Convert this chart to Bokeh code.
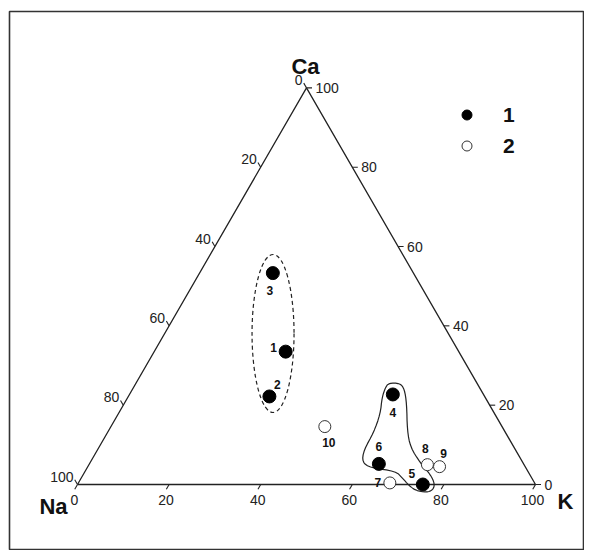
import numpy as np
from bokeh.plotting import figure
from bokeh.models import Range1d, ColumnDataSource, Legend, LegendItem
from bokeh.core.properties import value
from bokeh.embed import file_html
from bokeh.resources import INLINE

# ---- data (ternary compositions, %) ----
sample_ids = ["1", "2", "3", "4", "5", "6", "7", "8", "9", "10"]
sample_K = [28.7, 30.8, 16.0, 57.5, 75.4, 63.2, 68.0, 73.9, 76.8, 46.7]
sample_Ca = [33.5, 22.2, 53.3, 22.7, 0.0, 5.2, 0.4, 5.0, 4.5, 14.6]
sample_group = [1, 1, 1, 1, 1, 1, 2, 2, 2, 2]
label_dx = [-12, 8, -3, 0, -11, 0, -12, -2, 4, 4]
label_dy = [-4, -12, 17, 18, -11, -17, 0, -16, -13, 16]

tick_values = [0, 20, 40, 60, 80, 100]
tick_labels = ["0", "20", "40", "60", "80", "100"]

# field outlines
ellipse_center_K = 23.66
ellipse_center_Ca = 38.07
ellipse_w = 9.17
ellipse_h = 34.5

field_K = [55.2, 57.6, 59.3, 61.7, 65.2, 68.0, 72.2, 75.8, 77.9, 78.3, 77.2, 74.6,
           72.5, 70.05, 67.8, 61.9, 59.35, 58.2, 58.1, 57.2, 55.5, 55.0]
field_Ca = [25.54, 25.54, 24.13, 20.35, 13.61, 9.40, 5.37, 2.52, 0.18, -1.34, -2.02, -1.51,
            -0.25, 1.69, 3.35, 4.21, 5.62, 8.57, 13.19, 17.83, 22.01, 24.53]

S3 = np.sqrt(3) / 2


def xy(K, Ca):
    K = np.asarray(K, dtype=float)
    Ca = np.asarray(Ca, dtype=float)
    return K + Ca / 2, Ca * S3


def chaikin(x, y, n=2):
    # rounds the corners of a closed outline
    x = np.asarray(x, float); y = np.asarray(y, float)
    for _ in range(n):
        x1, y1 = np.roll(x, -1), np.roll(y, -1)
        qx, qy = 0.75 * x + 0.25 * x1, 0.75 * y + 0.25 * y1
        rx, ry = 0.25 * x + 0.75 * x1, 0.25 * y + 0.75 * y1
        x = np.column_stack([qx, rx]).ravel()
        y = np.column_stack([qy, ry]).ravel()
    return x, y


p = figure(width=584, height=550, output_backend="svg", toolbar_location=None,
           x_range=Range1d(-14.847, 110.48), y_range=Range1d(-14.41, 103.275),
           x_axis_location=None, y_axis_location=None,
           min_border_left=9, min_border_right=1, min_border_top=11, min_border_bottom=0)
p.grid.visible = False
p.outline_line_color = "#333333"
p.outline_line_width = 1.6
p.background_fill_color = "white"

# triangle frame (Na, K, Ca vertices)
tx, ty = xy([0, 100, 0, 0], [0, 0, 100, 0])
p.line(tx, ty, line_color="#222222", line_width=1.3)

# ticks
L = 1.2
tv = np.array(tick_values, dtype=float)
# left side: Na axis (0 at top, 100 at Na vertex)
lx, ly = xy(np.zeros_like(tv), 100 - tv)
# right side: Ca axis (0 at K vertex, 100 at top)
rx, ry = xy(100 - tv, tv)
# bottom: K axis
bx, by = xy(tv, np.zeros_like(tv))

xs, ys = [], []
for i in range(len(tv)):
    xs.append([lx[i], lx[i] - 0.5 * L]); ys.append([ly[i], ly[i] + S3 * L])
    xs.append([rx[i], rx[i] + L]); ys.append([ry[i], ry[i]])
    xs.append([bx[i], bx[i] - 0.5 * L]); ys.append([by[i], by[i] - S3 * L])
p.multi_line(xs, ys, line_color="#222222", line_width=1.1)

tick_font = value("Liberation Sans")
p.text(lx, ly, text=tick_labels, text_align="right", text_baseline="middle",
       x_offset=-4, y_offset=-8, text_font=tick_font, text_font_size="14px", text_color="#222222")
p.text(rx, ry, text=tick_labels, text_align="left", text_baseline="middle",
       x_offset=9, y_offset=0, text_font=tick_font, text_font_size="14px", text_color="#222222")
p.text(bx, by, text=tick_labels, text_align="center", text_baseline="middle",
       x_offset=-3, y_offset=15, text_font=tick_font, text_font_size="14px", text_color="#222222")

# vertex labels
vx, vy = xy([0, 100, 0], [100, 0, 0])
p.text(vx, vy, text=["Ca", "K", "Na"], text_align="center", text_baseline="middle",
       x_offset=[-1, 30, -24], y_offset=[-21, 17, 22],
       text_font=tick_font, text_font_style="bold", text_font_size="22px", text_color="#111111")

# group outlines
ex, ey = xy([ellipse_center_K], [ellipse_center_Ca])
p.ellipse(ex, ey, width=ellipse_w, height=ellipse_h, fill_color=None,
          line_color="#222222", line_width=1.2, line_dash="4 3")
fx, fy = xy(field_K, field_Ca)
fx, fy = chaikin(fx, fy, 2)
p.patch(fx, fy, fill_color=None, line_color="#222222", line_width=1.2)

# samples
sx, sy = xy(sample_K, sample_Ca)
grp = np.array(sample_group)
src1 = ColumnDataSource(dict(x=sx[grp == 1], y=sy[grp == 1]))
src2 = ColumnDataSource(dict(x=sx[grp == 2], y=sy[grp == 2]))
r1 = p.scatter("x", "y", source=src1, size=13, marker="circle",
               fill_color="black", line_color="black")
r2 = p.scatter("x", "y", source=src2, size=12, marker="circle",
               fill_color="white", line_color="#333333", line_width=1)

p.text(sx, sy, text=sample_ids, text_align="center", text_baseline="middle",
       x_offset=label_dx, y_offset=label_dy, text_font=tick_font, text_font_style="bold",
       text_font_size="12px", text_color="#111111")

legend = Legend(items=[LegendItem(label="1", renderers=[r1]),
                       LegendItem(label="2", renderers=[r2])],
                location=(445, 392), orientation="vertical",
                glyph_width=25, glyph_height=25, label_height=25, spacing=6,
                label_standoff=24, padding=0, margin=0,
                border_line_color=None, background_fill_alpha=0,
                label_text_font="Liberation Sans", label_text_font_style="bold",
                label_text_font_size="21px", label_text_color="#111111")
p.add_layout(legend)

open("out.html", "w").write(file_html(p, INLINE))
